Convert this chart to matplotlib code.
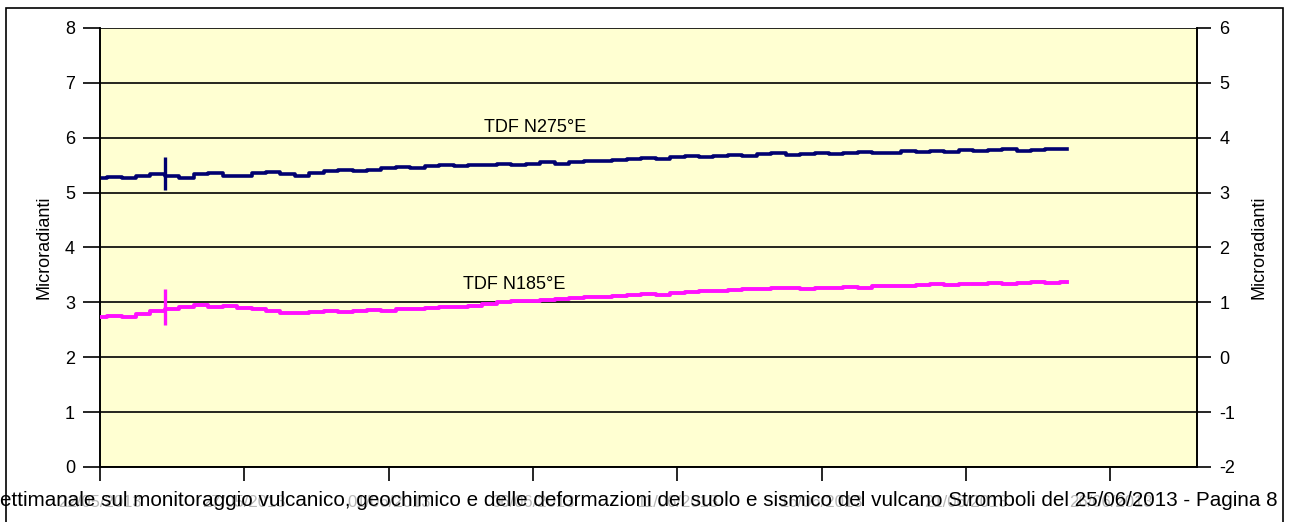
import matplotlib
matplotlib.use('Agg')
import matplotlib.pyplot as plt
import matplotlib.dates as mdates
import numpy as np
import pandas as pd
from matplotlib.patches import Rectangle

plt.rcParams['font.family'] = ['Liberation Sans', 'DejaVu Sans']
plt.rcParams['axes.unicode_minus'] = False

# samples every 12 hours from 22/05/2013
start = '2013-05-22'
n275 = [5.26, 5.29, 5.27, 5.31, 5.34, 5.30, 5.27, 5.33, 5.36, 5.31,
        5.30, 5.35, 5.38, 5.34, 5.31, 5.35, 5.40, 5.42, 5.39, 5.41,
        5.45, 5.47, 5.44, 5.48, 5.50, 5.49, 5.51, 5.50, 5.53, 5.51,
        5.52, 5.55, 5.53, 5.56, 5.58, 5.57, 5.60, 5.61, 5.63, 5.62,
        5.65, 5.66, 5.64, 5.67, 5.69, 5.67, 5.70, 5.72, 5.69, 5.71,
        5.73, 5.71, 5.72, 5.74, 5.72, 5.73, 5.75, 5.74, 5.76, 5.74,
        5.77, 5.75, 5.77, 5.79, 5.76, 5.78, 5.80, 5.79]
# N185 on the secondary (right) axis
n185 = [0.74, 0.76, 0.73, 0.79, 0.84, 0.88, 0.92, 0.95, 0.91, 0.94,
        0.90, 0.88, 0.84, 0.81, 0.80, 0.83, 0.84, 0.82, 0.85, 0.86,
        0.85, 0.88, 0.87, 0.90, 0.92, 0.91, 0.94, 0.97, 1.00, 1.02,
        1.03, 1.05, 1.06, 1.08, 1.10, 1.09, 1.12, 1.13, 1.15, 1.14,
        1.17, 1.19, 1.21, 1.20, 1.23, 1.25, 1.24, 1.26, 1.27, 1.25,
        1.27, 1.26, 1.28, 1.27, 1.29, 1.30, 1.29, 1.31, 1.33, 1.32,
        1.34, 1.33, 1.35, 1.34, 1.36, 1.37, 1.36, 1.37]
spike_time = '2013-05-24 06:00'
n275_spike = [5.05, 5.65]
n185_spike = [0.58, 1.25]

tick_dates = ['22/05/2013', '27/05/2013', '01/06/2013', '06/06/2013',
              '11/06/2013', '16/06/2013', '21/06/2013', '26/06/2013']
footer = ('ettimanale sul monitoraggio vulcanico, geochimico e delle deformazioni '
          'del suolo e sismico del vulcano Stromboli del 25/06/2013 - Pagina 8')

t = pd.date_range(start, periods=len(n275), freq='12h')
ticks = pd.to_datetime(tick_dates, format='%d/%m/%Y')

fig = plt.figure(figsize=(12.93, 5.22), dpi=100)
ax = fig.add_axes([0.0773, 0.1054, 0.8485, 0.841])
ax.set_facecolor('#FFFFD2')
ax2 = ax.twinx()

navy = '#000070'
magenta = '#FF10FF'

ax.plot(t, n275, color=navy, lw=2.6, zorder=3, drawstyle='steps-mid')
ax.vlines(pd.Timestamp(spike_time), *n275_spike, color=navy, lw=2.4, zorder=3)
ax2.plot(t, n185, color=magenta, lw=2.8, zorder=3, drawstyle='steps-mid')
ax2.vlines(pd.Timestamp(spike_time), *n185_spike, color=magenta, lw=2.4, zorder=3)

ax.set_xlim(pd.Timestamp('2013-05-22'), pd.Timestamp('2013-06-29'))
ax.set_ylim(0, 8)
ax2.set_ylim(-2, 6)
ax.set_yticks(range(0, 9))
ax2.set_yticks(range(-2, 7))
ax.yaxis.grid(True, color='black', lw=1.2)
ax.set_axisbelow(True)

ax.set_xticks(ticks)
ax.xaxis.set_major_formatter(mdates.DateFormatter('%d/%m/%Y'))
ax.tick_params(axis='x', length=10, width=1.2, labelsize=12, pad=10, colors='black', labelcolor='#b8b8b8')
ax.tick_params(axis='y', length=12, width=1.2, labelsize=13, pad=6)
ax2.tick_params(axis='y', length=10, width=1.2, labelsize=13, pad=6)

for a in (ax, ax2):
    for s in a.spines.values():
        s.set_linewidth(1.2)
ax.spines['top'].set_visible(False)
ax2.spines['top'].set_visible(False)

ax.set_ylabel('Microradianti', fontsize=13, labelpad=9)
ax2.set_ylabel('Microradianti', fontsize=13, rotation=90, labelpad=11)

ax.text(pd.Timestamp('2013-06-06 02:00'), 6.18, 'TDF N275°E', fontsize=13, ha='center', va='center')
ax.text(pd.Timestamp('2013-06-05 08:00'), 3.32, 'TDF N185°E', fontsize=13, ha='center', va='center')

# outer chart frame
fig.patches.append(Rectangle((6 / 1293, -0.1), 1277 / 1293, 1.1 - 8 / 522,
                             transform=fig.transFigure, fill=False,
                             edgecolor='black', lw=1.2, clip_on=False))
fig.text(0.0, 0.042, footer, fontsize=14.9, ha='left', va='center', color='black')

fig.savefig('out.png', dpi=100)
